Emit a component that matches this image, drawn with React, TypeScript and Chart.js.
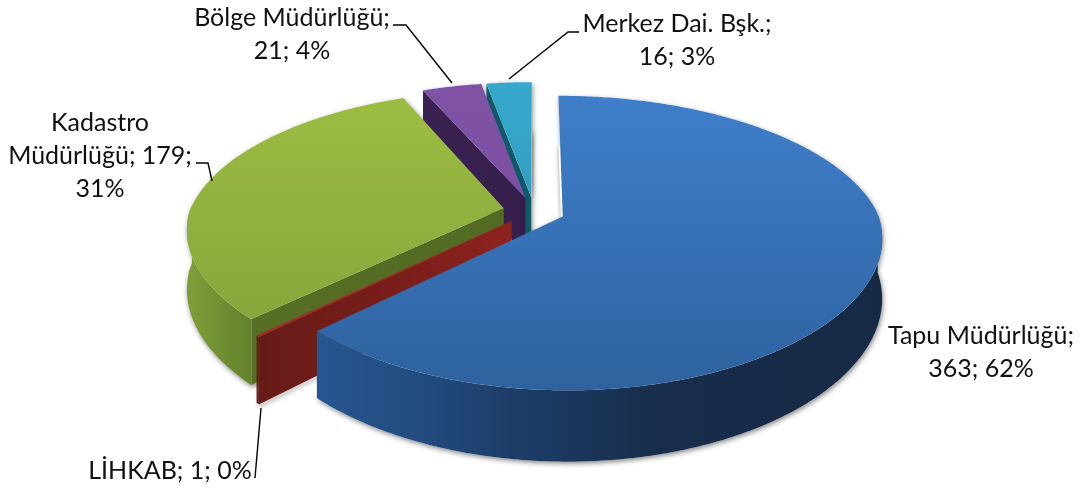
import React, { useEffect, useRef } from "react";
import { Chart, registerables } from "chart.js";

Chart.register(...registerables);

const categories = ["Tapu Müdürlüğü", "LİHKAB", "Kadastro Müdürlüğü", "Bölge Müdürlüğü", "Merkez Dai. Bşk."];
const values = [363, 1, 179, 21, 16];
const percents = [62, 0, 31, 4, 3];

const labelTexts = [
  `${categories[0]};\n${values[0]}; ${percents[0]}%`,
  `${categories[1]}; ${values[1]}; ${percents[1]}%`,
  `Kadastro\nMüdürlüğü; ${values[2]};\n${percents[2]}%`,
  `${categories[3]};\n${values[3]}; ${percents[3]}%`,
  `${categories[4]};\n${values[4]}; ${percents[4]}%`,
];

// Presentation tables (kept apart from the data)
const labelPlacement = [
  { x: 981, y: 344 },
  { x: 170, y: 479 },
  { x: 100, y: 131 },
  { x: 292, y: 26 },
  { x: 677, y: 32 },
];
const leaders: number[][][] = [
  [],
  [[255, 478], [261, 408]],
  [[196, 163], [208, 163], [212, 181]],
  [[393, 25], [406, 25], [452, 83]],
  [[579, 32], [568, 32], [509, 79]],
];
const faceStops = [
  ["#3f7fcb", "#2e629f"],
  ["#a52a25", "#a52a25"],
  ["#9dbd42", "#80a03a"],
  ["#7f52a6", "#77499a"],
  ["#36a8cc", "#2b8dac"],
];
const rimStops: [number, string][][] = [
  [[320, "#25568f"], [420, "#224b7f"], [520, "#1d3c66"], [660, "#172d4b"], [880, "#172a45"]],
  [[255, "#661c18"], [510, "#661c18"]],
  [[190, "#7d9d38"], [255, "#62802c"]],
  [[420, "#3a2252"], [530, "#3a2252"]],
  [[480, "#125d6c"], [535, "#125d6c"]],
];
const cutStops: [number, string][][] = [
  [[320, "#1c3b63"], [560, "#1c3b63"]],
  [[255, "#661b17"], [400, "#7a1e1b"], [512, "#8e231f"]],
  [[250, "#566f24"], [505, "#526a22"]],
  [[420, "#3a2252"], [530, "#341e4b"]],
  [[480, "#0f5a69"], [535, "#0f5a69"]],
];

const TILT = 140.5 / 314;
const PERSP = 0.18;
const PERSP_X_NEAR = 0.14;
const DEPTH = 58;

const pie3d = {
  id: "pie3d",
  beforeDatasetDraw(chart: any, args: any) {
    const ctx: CanvasRenderingContext2D = chart.ctx;
    const arcs = args.meta.data;

    const project = (arc: any, X: number, Y: number, lift: number): [number, number] => {
      const w = 1 / (1 - PERSP * Y);
      const wx = Y > 0 ? 1 / (1 - PERSP_X_NEAR * Y) : w;
      return [arc.x + X * arc.outerRadius * wx, arc.y + Y * arc.outerRadius * TILT * w + lift * w];
    };
    const origin = (arc: any) => {
      const mid = (arc.startAngle + arc.endAngle) / 2;
      const o = (arc.options.offset || 0) / arc.outerRadius;
      return [Math.cos(mid) * o, Math.sin(mid) * o];
    };
    const rim = (arc: any, a: number, lift: number) => {
      const [ox, oy] = origin(arc);
      return project(arc, ox + Math.cos(a), oy + Math.sin(a), lift);
    };
    const apex = (arc: any, lift: number) => {
      const [ox, oy] = origin(arc);
      return project(arc, ox, oy, lift);
    };
    const angles = (arc: any) => {
      const n = Math.max(2, Math.ceil((arc.endAngle - arc.startAngle) * 90));
      const out: number[] = [];
      for (let i = 0; i <= n; i++) out.push(arc.startAngle + ((arc.endAngle - arc.startAngle) * i) / n);
      return out;
    };
    const fillPoly = (pts: [number, number][], style: any) => {
      ctx.beginPath();
      pts.forEach((p, i) => (i ? ctx.lineTo(p[0], p[1]) : ctx.moveTo(p[0], p[1])));
      ctx.closePath();
      ctx.fillStyle = style;
      ctx.fill();
    };
    const hGrad = (stops: [number, string][]) => {
      const x0 = stops[0][0];
      const x1 = stops[stops.length - 1][0];
      const g = ctx.createLinearGradient(x0, 0, x1, 0);
      stops.forEach(([x, c]) => g.addColorStop((x - x0) / (x1 - x0), c));
      return g;
    };
    const quad = (arc: any, a: number, style: any) => {
      fillPoly([apex(arc, 0), rim(arc, a, 0), rim(arc, a, DEPTH), apex(arc, DEPTH)], style);
    };

    ctx.save();

    // soft contact shadow, painted before every slice
    ctx.save();
    ctx.shadowColor = "rgba(40,40,40,0.55)";
    ctx.shadowBlur = 5;
    ctx.shadowOffsetX = 1;
    ctx.shadowOffsetY = 2;
    for (const arc of arcs) {
      const as = angles(arc);
      const top = as.map((a) => rim(arc, a, 0));
      const bottom = as.map((a) => rim(arc, a, DEPTH));
      fillPoly([apex(arc, 0), ...top, apex(arc, 0)], "#fff");
      fillPoly([apex(arc, DEPTH), ...bottom, apex(arc, DEPTH)], "#fff");
    }
    ctx.restore();

    // back to front
    for (let i = arcs.length - 1; i >= 0; i--) {
      const arc = arcs[i];
      const as = angles(arc);

      if (Math.cos(arc.startAngle) < 0) quad(arc, arc.startAngle, hGrad(cutStops[i]));
      if (Math.cos(arc.endAngle) > 0) quad(arc, arc.endAngle, hGrad(cutStops[i]));

      const front = as.filter((a) => Math.sin(a) > -0.02);
      if (front.length > 1) {
        const upper = front.map((a) => rim(arc, a, 0));
        const lower = front.map((a) => rim(arc, a, DEPTH)).reverse();
        fillPoly([...upper, ...lower], hGrad(rimStops[i]));
      }

      const g = ctx.createLinearGradient(0, 90, 0, 390);
      g.addColorStop(0, faceStops[i][0]);
      g.addColorStop(1, faceStops[i][1]);
      fillPoly([apex(arc, 0), ...as.map((a) => rim(arc, a, 0))], g);
    }
    ctx.restore();
    return false;
  },
  afterDatasetsDraw(chart: any) {
    const ctx: CanvasRenderingContext2D = chart.ctx;
    ctx.save();
    ctx.strokeStyle = "#000";
    ctx.lineWidth = 1.4;
    for (const path of leaders) {
      if (!path.length) continue;
      ctx.beginPath();
      path.forEach(([x, y], i) => (i ? ctx.lineTo(x, y) : ctx.moveTo(x, y)));
      ctx.stroke();
    }
    ctx.fillStyle = "#111";
    ctx.font = "25px Lato";
    ctx.textAlign = "center";
    ctx.textBaseline = "alphabetic";
    labelTexts.forEach((text, i) => {
      text.split("\n").forEach((line, k) => {
        ctx.fillText(line, labelPlacement[i].x, labelPlacement[i].y + k * 33);
      });
    });
    ctx.restore();
  },
};

export default function App() {
  const ref = useRef<HTMLCanvasElement>(null);
  useEffect(() => {
    if (!ref.current) return;
    const chart = new Chart(ref.current, {
      type: "pie",
      data: {
        labels: categories,
        datasets: [{ data: values, backgroundColor: faceStops.map((f) => f[0]), borderWidth: 0, offset: 31 }],
      },
      options: {
        animation: false,
        responsive: false,
        radius: 314,
        layout: { padding: { left: 0, top: 0, right: 19, bottom: 66 } },
        plugins: { legend: { display: false }, tooltip: { enabled: false } },
      } as any,
      plugins: [pie3d as any],
    });
    return () => chart.destroy();
  }, []);
  return (
    <canvas
      ref={ref}
      width={1087}
      height={488}
      style={{ position: "absolute", left: 0, top: 0, display: "block", background: "#fff" }}
    />
  );
}
